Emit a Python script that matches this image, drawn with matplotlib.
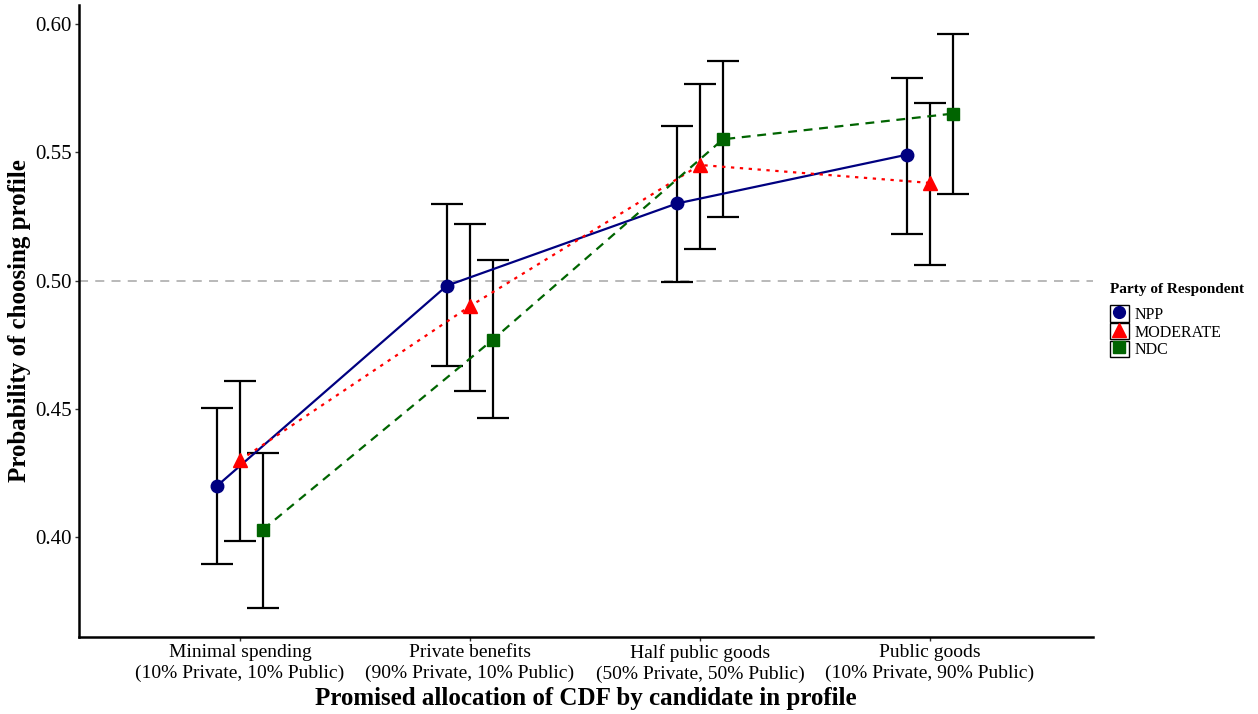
import matplotlib.pyplot as plt
from matplotlib.lines import Line2D
from matplotlib.patches import Rectangle
import numpy as np

plt.rcParams["font.family"] = ["Liberation Serif", "DejaVu Serif"]

categories = ["Minimal spending\n(10% Private, 10% Public)",
              "Private benefits\n(90% Private, 10% Public)",
              "Half public goods\n(50% Private, 50% Public)",
              "Public goods\n(10% Private, 90% Public)"]
parties = ["NPP", "MODERATE", "NDC"]

# point estimates and 95% intervals, one list per party
npp_est = [0.420, 0.498, 0.530, 0.549]
npp_lo = [0.3895, 0.4668, 0.4994, 0.5181]
npp_hi = [0.4505, 0.5297, 0.5600, 0.5790]

mod_est = [0.430, 0.490, 0.545, 0.538]
mod_lo = [0.3984, 0.4571, 0.5122, 0.5060]
mod_hi = [0.4610, 0.5219, 0.5767, 0.5693]

ndc_est = [0.403, 0.477, 0.555, 0.565]
ndc_lo = [0.3724, 0.4466, 0.5247, 0.5336]
ndc_hi = [0.4330, 0.5080, 0.5856, 0.5961]

colors = ["#000080", "#ff0000", "#006400"]
markers = ["o", "^", "s"]
styles = ["-", (0, (1.5, 2.5)), (0, (4, 3))]
msizes = [9, 10, 8.5]
offsets = [-0.1, 0.0, 0.1]

fig = plt.figure(figsize=(12.58, 7.14), dpi=100)
ax = fig.add_axes([0.0628, 0.108, 0.8062, 0.885])

x = np.arange(1, 5)
series = [(npp_est, npp_lo, npp_hi), (mod_est, mod_lo, mod_hi), (ndc_est, ndc_lo, ndc_hi)]

ax.axhline(0.5, color="#b3b3b3", linestyle=(0, (5, 4)), linewidth=1.3, zorder=0)

for (est, lo, hi), c, m, ls, ms, off in zip(series, colors, markers, styles, msizes, offsets):
    xs = x + off
    est = np.array(est)
    yerr = [est - np.array(lo), np.array(hi) - est]
    ax.errorbar(xs, est, yerr=yerr, fmt="none", ecolor="black", elinewidth=1.6,
                capsize=11.5, capthick=1.6, zorder=2)
    ax.plot(xs, est, color=c, linestyle=ls, linewidth=1.6, zorder=3)
    ax.plot(xs, est, color=c, marker=m, markersize=ms, linestyle="none", zorder=4)

ax.set_xlim(0.3, 4.71)
ax.set_ylim(0.3612, 0.6073)
ax.set_xticks(x)
ax.set_xticklabels(categories, fontsize=14, linespacing=1.3)
ax.set_yticks([0.40, 0.45, 0.50, 0.55, 0.60])
ax.set_yticklabels(["0.40", "0.45", "0.50", "0.55", "0.60"], fontsize=15)
ax.tick_params(axis="both", length=3, width=1, color="#333333", pad=2)

for s in ["top", "right"]:
    ax.spines[s].set_visible(False)
for s in ["left", "bottom"]:
    ax.spines[s].set_linewidth(1.8)

ax.set_xlabel("Promised allocation of CDF by candidate in profile", fontsize=18,
              fontweight="bold", labelpad=3)
ax.set_ylabel("Probability of choosing profile", fontsize=18, fontweight="bold", labelpad=3)

handles = []
for c, m, ls, ms in zip(colors, markers, styles, msizes):
    box = Rectangle((0, 0), 1, 1, facecolor="white", edgecolor="black", linewidth=1)
    pt = Line2D([], [], color=c, marker=m, markersize=ms - 0.5, linestyle="none")
    handles.append((box, pt))

leg = fig.legend(handles, parties, loc="upper left", bbox_to_anchor=(0.8825, 0.604),
                 frameon=False, title="Party of Respondent", fontsize=11.5,
                 title_fontproperties={"weight": "bold", "size": 11},
                 handlelength=1.15, handleheight=1.2, handletextpad=0.4,
                 labelspacing=0.0, borderaxespad=0, borderpad=0)
leg._legend_box.align = "left"
leg._legend_box.sep = 7

fig.savefig("out.png", dpi=100)
